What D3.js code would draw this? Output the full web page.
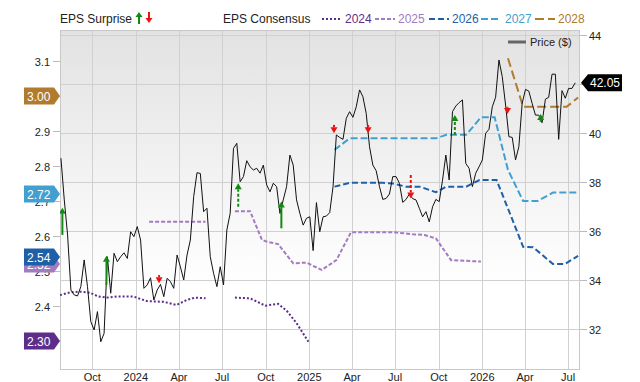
<!DOCTYPE html>
<html><head><meta charset="utf-8">
<script src="https://cdn.jsdelivr.net/npm/d3@7"></script>
<style>body{margin:0;background:#fff;} text{font-family:"Liberation Sans",Arial,sans-serif;}</style>
</head><body><svg id="c" width="640" height="382"></svg>
<script>
// ---------- DATA ----------
const priceStart = "2023-07-27";   // weekly closes
const priceValues = [38.97,37.27,35.84,33.59,33.39,33.35,33.73,34.82,33.73,32.30,
31.96,32.71,31.48,31.82,34.95,33.46,35.09,34.75,34.95,35.11,
34.88,35.97,35.77,36.18,35.63,33.66,33.80,34.09,33.18,33.59,
33.82,33.32,34.07,33.93,33.66,35.02,34.54,34.00,35.02,35.63,
37.40,38.38,38.35,36.79,36.93,34.95,34.27,33.73,34.54,33.80,
36.04,36.72,39.37,39.58,38.01,38.22,38.87,38.62,38.49,38.56,
38.36,38.69,37.88,37.60,37.95,37.81,36.72,37.27,37.81,39.10,
38.69,37.27,36.72,36.24,36.52,36.58,35.20,37.16,35.97,36.58,
36.61,36.75,37.81,39.92,39.82,39.74,40.60,40.87,40.64,41.07,
41.76,41.48,40.80,39.44,38.69,38.46,37.81,37.29,37.33,37.51,
38.22,38.22,37.95,37.17,37.29,37.51,37.32,37.27,36.93,36.58,
36.79,36.37,36.99,37.29,37.20,38.08,39.10,38.08,40.87,41.10,
41.24,41.35,38.76,38.56,37.81,38.36,38.62,38.90,39.99,40.15,
41.07,41.46,42.98,42.30,41.14,39.85,39.82,38.90,39.44,41.21,
41.78,41.71,41.21,40.73,40.73,40.42,41.38,41.46,42.40,42.40,
39.74,41.73,41.42,41.82,41.82,42.05];
const lastPriceLabel = "42.05";

const xDomain = ["2023-07-25","2026-07-26"];
const xTickDates = ["2023-10-01","2024-01-01","2024-04-01","2024-07-01","2024-10-01","2025-01-01",
                    "2025-04-01","2025-07-01","2025-10-01","2026-01-01","2026-04-01","2026-07-01"];
const xTickLabels = ["Oct","2024","Apr","Jul","Oct","2025","Apr","Jul","Oct","2026","Apr","Jul"];
const epsTicks = [2.3,2.4,2.5,2.6,2.7,2.8,2.9,3.0,3.1];
const epsTickLabelsShown = [2.4,2.5,2.6,2.7,2.8,2.9,3.1];   // 3.0 and 2.3 sit under badges
const priceTicks = [32,34,36,38,40,42,44];
const priceTickLabelsShown = [32,34,36,38,40,44];          // 42 sits under the last-price badge

const seriesYears = ["2024","2025","2026","2027","2028"];
const seriesColors = ["#5e2d8c","#a27cc0","#1f5fa8","#42a0d0","#b07b2e"];

const cons2024 = [["2023-07-25",2.431],["2023-08-15",2.439],["2023-09-05",2.441],["2023-09-26",2.438],
 ["2023-10-14",2.427],["2023-11-01",2.424],["2023-11-22",2.427],["2023-12-27",2.427],["2024-01-24",2.414],
 ["2024-02-28",2.412],["2024-03-27",2.403],["2024-04-17",2.417],["2024-05-05",2.424],["2024-05-27",2.422],
 ["2024-06-20",null],
 ["2024-07-28",2.424],["2024-08-29",2.422],["2024-09-30",2.401],["2024-10-27",2.406],["2024-11-14",2.387],
 ["2024-12-05",2.351],["2024-12-30",2.298]];
const cons2025 = [["2024-01-29",2.641],["2024-05-27",2.641],["2024-06-20",null],
 ["2024-07-28",2.671],["2024-08-29",2.671],["2024-09-23",2.589],["2024-10-03",2.584],["2024-10-27",2.577],
 ["2024-11-28",2.522],["2024-12-26",2.524],["2025-01-27",2.503],["2025-02-27",2.531],["2025-03-30",2.611],
 ["2025-06-26",2.611],["2025-08-07",2.605],["2025-09-01",2.603],["2025-09-25",2.593],["2025-10-27",2.531],
 ["2025-11-28",2.529],["2025-12-29",2.527]];
const cons2026 = [["2025-02-23",2.741],["2025-03-27",2.752],["2025-06-05",2.752],["2025-06-26",2.750],
 ["2025-07-24",2.741],["2025-08-22",2.741],["2025-09-25",2.725],["2025-10-17",2.741],["2025-11-28",2.741],
 ["2025-12-26",2.760],["2026-01-31",2.760],["2026-02-28",2.665],["2026-03-28",2.569],["2026-04-18",2.568],
 ["2026-05-30",2.520],["2026-06-24",2.520],["2026-07-22",2.543]];
const cons2027 = [["2025-02-23",2.846],["2025-03-27",2.879],["2025-09-25",2.879],["2025-10-17",2.889],
 ["2025-11-28",2.889],["2025-12-29",2.939],["2026-01-27",2.939],["2026-02-24",2.789],["2026-03-28",2.700],
 ["2026-04-28",2.700],["2026-05-30",2.724],["2026-07-22",2.724]];
const cons2028 = [["2026-02-24",3.108],["2026-03-28",2.969],["2026-06-28",2.969],["2026-07-22",2.996]];

const badgeValues = ["3.00","2.72","2.52","2.54","2.30"];
const badgeSeries = [4,3,1,2,0];

// EPS surprises (drawn on the price scale)
const surpriseDates = ["2023-07-30","2023-10-31","2024-02-19","2024-08-04","2024-11-03","2025-02-22",
                       "2025-05-05","2025-08-03","2025-11-04","2026-02-23","2026-05-04"];
const surpriseFrom = [35.84,33.80,34.20,36.99,36.11,40.33,40.33,38.29,39.92,41.07,40.46];
const surpriseTo   = [36.95,34.99,33.87,37.95,37.20,39.99,39.99,37.33,40.73,40.78,40.78];
const surpriseDashed = [false,false,false,true,false,false,false,true,true,false,false];

// ---------- CHART ----------
const L = 60, R = 580, T = 30, B = 370;
const parse = d3.timeParse("%Y-%m-%d");
const svg = d3.select("#c");

const x = d3.scaleTime().domain(xDomain.map(parse)).range([L, R]);
const yEps = d3.scaleLinear().domain([2.4, 3.1]).range([306, 61]);
const yPrice = d3.scaleLinear().domain([32, 44]).range([329, 35]);

const defs = svg.append("defs");
const grad = defs.append("linearGradient").attr("id","bg").attr("x1",0).attr("x2",0).attr("y1",0).attr("y2",1);
grad.append("stop").attr("offset","0%").attr("stop-color","#e2e2e2");
grad.append("stop").attr("offset","75%").attr("stop-color","#ffffff");
defs.append("clipPath").attr("id","clip").append("rect").attr("x",L).attr("y",T).attr("width",R-L).attr("height",B-T);

svg.append("rect").attr("x",L).attr("y",T).attr("width",R-L).attr("height",B-T).attr("fill","url(#bg)");

// grid
const grid = svg.append("g").attr("stroke","#d0d0d0").attr("stroke-width",1);
grid.selectAll("line.h").data(priceTicks).join("line")
  .attr("x1",L).attr("x2",R).attr("y1",d=>Math.round(yPrice(d))+0.5).attr("y2",d=>Math.round(yPrice(d))+0.5);
grid.selectAll("line.v").data(xTickDates).join("line")
  .attr("y1",T).attr("y2",B).attr("x1",d=>Math.round(x(parse(d)))+0.5).attr("x2",d=>Math.round(x(parse(d)))+0.5);
svg.append("rect").attr("x",L+0.5).attr("y",T+0.5).attr("width",R-L-1).attr("height",B-T-1)
  .attr("fill","none").attr("stroke","#c8c8c8");

// consensus lines
const consAll = [cons2024,cons2025,cons2026,cons2027,cons2028];
const dashes = ["2,2","4,2","6,3","7,3","9,4"];
const lineEps = d3.line().defined(d=>d[1]!==null).x(d=>x(parse(d[0]))).y(d=>yEps(d[1]));
const plot = svg.append("g").attr("clip-path","url(#clip)");
consAll.forEach((s,i)=>{
  plot.append("path").attr("d",lineEps(s)).attr("fill","none")
    .attr("stroke",seriesColors[i]).attr("stroke-width",2).attr("stroke-dasharray",dashes[i]);
});

// price line
const p0 = parse(priceStart);
const priceData = priceValues.map((v,i)=>({d:d3.timeDay.offset(p0,7*i), v}));
plot.append("path").datum(priceData)
  .attr("d", d3.line().x(d=>x(d.d)).y(d=>yPrice(d.v)))
  .attr("fill","none").attr("stroke","#111").attr("stroke-width",1);

// surprise arrows
surpriseDates.forEach((ds,i)=>{
  const cx = x(parse(ds));
  const y0 = yPrice(surpriseFrom[i]), y1 = yPrice(surpriseTo[i]);
  const up = y1 < y0;
  const col = up ? "#118a11" : "#ee1111";
  const hh = 6, hw = 3.5;
  const base = up ? y1 + hh : y1 - hh;
  plot.append("line").attr("x1",cx).attr("x2",cx).attr("y1",y0).attr("y2",base)
    .attr("stroke",col).attr("stroke-width",2).attr("stroke-dasharray",surpriseDashed[i]?"3,2":null);
  plot.append("path").attr("d",`M${cx-hw},${base}L${cx+hw},${base}L${cx},${y1}Z`).attr("fill",col);
});

// left axis (EPS)
const la = svg.append("g");
epsTicks.forEach(t=>{
  const yy = Math.round(yEps(t))+0.5;
  la.append("line").attr("x1",53).attr("x2",L).attr("y1",yy).attr("y2",yy).attr("stroke","#bbb");
});
epsTickLabelsShown.forEach(t=>{
  const yy = Math.round(yEps(t))+0.5;
  la.append("text").attr("x",50).attr("y",yy+4).attr("text-anchor","end").attr("font-size",11)
    .attr("fill","#222").text(d3.format(".1f")(t));
});
// right axis (price)
const ra = svg.append("g");
priceTicks.forEach(t=>{
  const yy = Math.round(yPrice(t))+0.5;
  ra.append("line").attr("x1",R).attr("x2",587).attr("y1",yy).attr("y2",yy).attr("stroke","#bbb");
});
priceTickLabelsShown.forEach(t=>{
  const yy = Math.round(yPrice(t))+0.5;
  ra.append("text").attr("x",589).attr("y",yy+4).attr("font-size",11).attr("fill","#222").text(t);
});
// x axis
xTickDates.forEach((d,i)=>{
  svg.append("text").attr("x",x(parse(d))).attr("y",381).attr("text-anchor","middle")
    .attr("font-size",11).attr("fill","#222").text(xTickLabels[i]);
});

// left badges
badgeValues.forEach((v,i)=>{
  const yy = yEps(+v);
  svg.append("path").attr("d",`M24,${yy-8.5}H54L60,${yy}L54,${yy+8.5}H24Z`).attr("fill",seriesColors[badgeSeries[i]]);
  svg.append("text").attr("x",27).attr("y",yy+4.5).attr("font-size",12).attr("fill","#fff").text(v);
});
// right badge
{
  const yy = yPrice(priceValues[priceValues.length-1]);
  svg.append("path").attr("d",`M581,${yy}L588,${yy-8.5}H622V${yy+8.5}H588Z`).attr("fill","#000");
  svg.append("text").attr("x",590).attr("y",yy+4.5).attr("font-size",12).attr("fill","#fff").text(lastPriceLabel);
}

// header legend
const hy = 23;
svg.append("text").attr("x",60).attr("y",hy).attr("font-size",12).attr("fill","#222").text("EPS Surprise");
const ua = 139, da = 149;
svg.append("line").attr("x1",ua).attr("x2",ua).attr("y1",hy+1).attr("y2",hy-7).attr("stroke","#118a11").attr("stroke-width",2);
svg.append("path").attr("d",`M${ua-3.5},${hy-6}L${ua+3.5},${hy-6}L${ua},${hy-11}Z`).attr("fill","#118a11");
svg.append("line").attr("x1",da).attr("x2",da).attr("y1",hy-11).attr("y2",hy-3).attr("stroke","#ee1111").attr("stroke-width",2);
svg.append("path").attr("d",`M${da-3.5},${hy-5}L${da+3.5},${hy-5}L${da},${hy}Z`).attr("fill","#ee1111");

svg.append("text").attr("x",223).attr("y",hy).attr("font-size",12).attr("fill","#222").text("EPS Consensus");
const legX = [[322,340,345],[375,395,398],[429,449,452],[481,501,505],[535,555,558]];
seriesYears.forEach((yr,i)=>{
  const [a,b,t] = legX[i];
  svg.append("line").attr("x1",a).attr("x2",b).attr("y1",hy-4).attr("y2",hy-4)
    .attr("stroke",seriesColors[i]).attr("stroke-width",2).attr("stroke-dasharray",dashes[i]);
  svg.append("text").attr("x",t).attr("y",hy).attr("font-size",12).attr("fill",seriesColors[i]).text(yr);
});

// price legend
svg.append("line").attr("x1",508).attr("x2",526).attr("y1",42).attr("y2",42).attr("stroke","#666").attr("stroke-width",3);
svg.append("text").attr("x",530).attr("y",46).attr("font-size",11).attr("fill","#222").text("Price ($)");
</script></body></html>
